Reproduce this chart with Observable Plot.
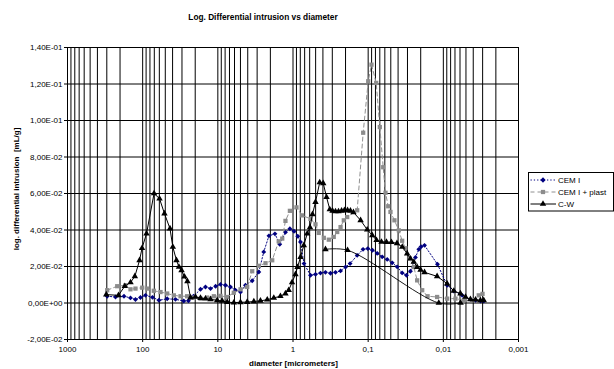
<!DOCTYPE html>
<html><head><meta charset="utf-8">
<script src="https://cdn.jsdelivr.net/npm/d3@7"></script>
<script src="https://cdn.jsdelivr.net/npm/@observablehq/plot@0.6"></script>
<style>body{margin:0;background:#fff;} svg{display:block}</style>
</head><body><div id="chart"></div>
<script>
// ---- data (diameter in micrometers, log differential intrusion in mL/g) ----
const cemD = [296.5,229.8,177.2,145.2,124.6,106.9,91.7,74.0,60.7,47.2,36.6,28.4,24.6,21.1,17.0,14.6,12.5,10.7,9.22,7.91,6.79,5.82,4.99,4.29,3.49,2.85,2.45,2.09,1.74,1.50,1.26,1.10,0.970,0.864,0.795,0.714,0.585,0.502,0.431,0.370,0.317,0.272,0.233,0.200,0.174,0.140,0.117,0.101,0.0876,0.0759,0.0651,0.0558,0.0479,0.0411,0.0353,0.0309,0.0274,0.0235,0.0212,0.0198,0.0178,0.01196,0.00889,0.00726,0.00561,0.00435,0.00373,0.00320,0.00290];
const cemV = [0.0037,0.0033,0.0037,0.0028,0.0019,0.003,0.0042,0.0031,0.0015,0.0023,0.002,0.0011,0.0012,0.0037,0.0075,0.0088,0.0079,0.0092,0.0102,0.0097,0.0088,0.007,0.006,0.0097,0.0122,0.017,0.028,0.0368,0.0379,0.0322,0.0387,0.0407,0.0393,0.0366,0.0334,0.0216,0.0152,0.0157,0.0164,0.0168,0.0163,0.0168,0.0176,0.0197,0.0216,0.0261,0.0294,0.0298,0.0289,0.0272,0.0253,0.0239,0.022,0.0198,0.0165,0.0152,0.0174,0.025,0.0294,0.0308,0.0316,0.0212,0.0097,0.0066,0.0042,0.0019,0.0015,0.0011,0.0011];

const plastD = [296.5,218.2,169.2,145.2,124.6,101.4,87.0,71.1,57.9,47.2,38.5,31.4,25.6,20.9,17.0,13.9,11.3,9.22,7.51,6.13,4.99,4.07,3.49,2.85,2.32,1.89,1.55,1.39,1.26,1.10,0.899,0.755,0.585,0.502,0.454,0.389,0.334,0.287,0.258,0.233,0.211,0.190,0.140,0.1165,0.0999,0.0903,0.0782,0.0700,0.0631,0.0588,0.0541,0.0505,0.0447,0.0391,0.0353,0.0319,0.0282,0.0247,0.0223,0.0191,0.0162,0.0121,0.00889,0.00689,0.00534,0.00413,0.00338,0.00301];
const plastV = [0.007,0.0092,0.0097,0.0075,0.0079,0.0084,0.0079,0.0067,0.006,0.0052,0.0042,0.0037,0.0037,0.003,0.0024,0.003,0.0037,0.0039,0.0033,0.0056,0.0075,0.0088,0.0174,0.0204,0.0218,0.0234,0.0338,0.0353,0.045,0.0505,0.0524,0.048,0.0461,0.0431,0.0384,0.0357,0.0347,0.0362,0.0389,0.0416,0.0453,0.0471,0.0508,0.0933,0.1215,0.1306,0.1206,0.0964,0.0744,0.0604,0.053,0.0499,0.0453,0.0398,0.0341,0.03,0.0245,0.0197,0.0124,0.007,0.0037,0.0033,0.0024,0.0024,0.0015,0.0015,0.0042,0.005];

const cwD = [305,210,173,145,127,110,102,88.9,70.6,59.7,51.3,43.3,39.7,35.5,32.9,30.4,27.8,25.4,23.1,19.8,17.0,14.6,12.5,10.2,8.75,7.50,6.13,5.00,4.07,3.32,2.71,2.20,1.80,1.47,1.26,1.14,1.03,0.927,0.871,0.794,0.718,0.647,0.594,0.551,0.502,0.441,0.396,0.358,0.324,0.298,0.272,0.248,0.226,0.207,0.188,0.172,0.157,0.126,0.103,0.0883,0.0774,0.0665,0.0571,0.0490,0.0414,0.0352,0.0303,0.0274,0.0247,0.0223,0.0201,0.0178,0.0121,0.0089,0.00726,0.00592,0.00507,0.00436,0.00373,0.00321,0.0029];
const cwV = [0.0046,0.0042,0.0092,0.0113,0.0146,0.0234,0.030,0.038,0.060,0.0572,0.049,0.0408,0.0307,0.0234,0.0198,0.0179,0.0144,0.0119,0.003,0.0033,0.0027,0.0024,0.002,0.0015,0.0011,0.0005,0.0002,0.0004,0.0005,0.0008,0.0012,0.0018,0.0028,0.0037,0.0052,0.007,0.0113,0.0157,0.0196,0.0252,0.0316,0.038,0.0415,0.0486,0.0553,0.0661,0.0656,0.058,0.0513,0.0505,0.0502,0.0502,0.0505,0.0508,0.0508,0.0505,0.0497,0.0453,0.0402,0.0371,0.0344,0.0335,0.0334,0.0333,0.0327,0.0307,0.0271,0.0243,0.0225,0.0197,0.0182,0.0168,0.0146,0.0106,0.0066,0.0052,0.0033,0.002,0.0018,0.0015,0.0015];
// C-W extra (smoothed) branch
const cwTailD = [0.37,0.188,0.0115,0.0059];
const cwTailV = [0.0294,0.0289,0,0];

const seriesNames = ["CEM I","CEM I + plast","C-W"];
const xTicks = [1000,100,10,1,0.1,0.01,0.001];
const yTicks = [-0.02,0,0.02,0.04,0.06,0.08,0.10,0.12,0.14];
const title = "Log. Differential intrusion vs diameter";
const xLabel = "diameter [micrometers]";
const yLabel = "log. differential intrusion  [mL/g]";

const rows = (D,V) => D.map((d,i)=>({d, v:V[i]}));
const cem = rows(cemD,cemV), plast = rows(plastD,plastV), cw = rows(cwD,cwV), cwTail = rows(cwTailD,cwTailV);

const gridX = [];
for (let e=-3;e<=2;e++) for (let m=1;m<=9;m++) gridX.push(+(m*Math.pow(10,e)).toPrecision(3));
gridX.push(1000);

const fmtY = v => {
  if (Math.abs(v) < 1e-12) return "0,00E+00";
  const e = Math.floor(Math.log10(Math.abs(v)) + 1e-9);
  const m = v / Math.pow(10, e);
  return m.toFixed(2).replace(".", ",") + "E" + (e<0?"-":"+") + String(Math.abs(e)).padStart(2,"0");
};
const fmtX = d => String(d).replace(".", ",");

const FONT = "'Liberation Sans', Arial, sans-serif";
const chart = Plot.plot({
  width: 614, height: 369,
  marginLeft: 67, marginRight: 96, marginTop: 47, marginBottom: 30,
  style: {fontFamily: FONT, fontSize: "8px", background: "#fff", color: "#000", overflow: "visible"},
  x: {type: "log", domain: [1000, 0.001]},
  y: {domain: [-0.02, 0.14]},
  marks: [
    Plot.ruleX(gridX, {stroke: "#000", strokeWidth: 1}),
    Plot.ruleY(yTicks, {stroke: "#000", strokeWidth: 1}),
    Plot.frame({stroke: "#000"}),
    Plot.axisX(xTicks, {tickFormat: fmtX, tickSize: 3, tickPadding: 4, label: null}),
    Plot.axisY(yTicks, {tickFormat: fmtY, tickSize: 3, tickPadding: 2, label: null}),
    Plot.line(cem, {x: "d", y: "v", stroke: "#000080", strokeWidth: 1, strokeDasharray: "1.3,2"}),
    Plot.dot(cem, {x: "d", y: "v", symbol: "diamond2", r: 2.2, fill: "#000080", stroke: "none"}),
    Plot.line(plast, {x: "d", y: "v", stroke: "#909090", strokeWidth: 1, strokeDasharray: "4,3"}),
    Plot.dot(plast, {x: "d", y: "v", symbol: "square", r: 2.4, fill: "#8c8c8c", stroke: "none"}),
    Plot.line(cw, {x: "d", y: "v", stroke: "#000", strokeWidth: 1}),
    Plot.line(cwTail, {x: "d", y: "v", stroke: "#000", strokeWidth: 0.9, curve: "catmull-rom"}),
    Plot.dot(cw, {x: "d", y: "v", symbol: "triangle", r: 2.4, fill: "#000", stroke: "none"}),
    Plot.dot(cwTail, {x: "d", y: "v", symbol: "triangle", r: 2.4, fill: "#000", stroke: "none"})
  ]
});
document.getElementById("chart").appendChild(chart);

const svg = d3.select(chart);
svg.append("text").attr("x", 263).attr("y", 20).attr("text-anchor", "middle")
  .attr("font-family", FONT).attr("font-weight", "bold").attr("font-size", 8.3).text(title);
svg.append("text").attr("x", 293.5).attr("y", 366).attr("text-anchor", "middle")
  .attr("font-family", FONT).attr("font-weight", "bold").attr("font-size", 8).text(xLabel);
svg.append("text").attr("transform", "translate(19,189) rotate(-90)").attr("text-anchor", "middle")
  .attr("font-family", FONT).attr("font-weight", "bold").attr("font-size", 8)
  .style("white-space", "pre").text(yLabel);

// legend
const lg = svg.append("g").attr("text-anchor", "start");
lg.append("rect").attr("x", 528.5).attr("y", 172.5).attr("width", 85).attr("height", 38.5)
  .attr("fill", "#fff").attr("stroke", "#000").attr("stroke-width", 1);
const styles = [
  {stroke: "#000080", dash: "1.3,2", sym: d3.symbolDiamond2 || d3.symbolSquare, rot: (d3.symbolDiamond2 ? 0 : 45), fill: "#000080"},
  {stroke: "#909090", dash: "4,3", sym: d3.symbolSquare, rot: 0, fill: "#8c8c8c"},
  {stroke: "#000", dash: null, sym: d3.symbolTriangle, rot: 0, fill: "#000"}
];
seriesNames.forEach((name, i) => {
  const y = 180 + i * 12;
  const s = styles[i];
  lg.append("line").attr("x1", 530.5).attr("x2", 556).attr("y1", y).attr("y2", y)
    .attr("stroke", s.stroke).attr("stroke-width", 1).attr("stroke-dasharray", s.dash);
  lg.append("path").attr("d", d3.symbol(s.sym, 2.4*2.4*Math.PI)())
    .attr("transform", `translate(543,${y}) rotate(${s.rot})`).attr("fill", s.fill);
  lg.append("text").attr("x", 558).attr("y", y + 3).attr("text-anchor", "start")
    .attr("font-family", FONT).attr("font-size", 8).text(name);
});
</script>
</body></html>
